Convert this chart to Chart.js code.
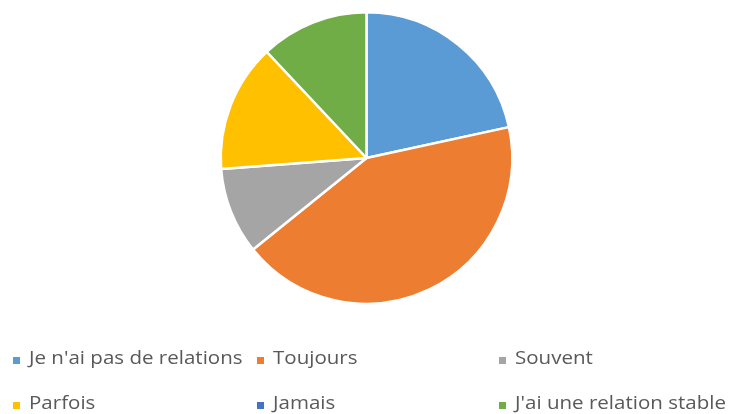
<!DOCTYPE html>
<html>
<head>
<meta charset="utf-8">
<script src="https://cdn.jsdelivr.net/npm/chart.js@4/dist/chart.umd.min.js"></script>
<style>
html,body{margin:0;padding:0;background:#fff;}
#wrap{position:relative;width:733px;height:414px;}
</style>
</head>
<body>
<div id="wrap"><canvas id="c" width="733" height="414"></canvas></div>
<script>
const categories = ["Je n'ai pas de relations", "Toujours", "Souvent", "Parfois", "Jamais", "J'ai une relation stable"];
const values = [21.6, 42.6, 9.6, 14.2, 0, 12.0];
const colors = ["#5B9BD5", "#ED7D31", "#A5A5A5", "#FFC000", "#4472C4", "#70AD47"];

const legendPlugin = {
  id: 'gridLegend',
  afterDraw(chart) {
    const ctx = chart.ctx;
    const labels = chart.data.labels;
    const bg = chart.data.datasets[0].backgroundColor;
    const colX = [13, 257, 499];
    const rowY = [364, 409];
    ctx.save();
    ctx.font = '18px "Open Sans", sans-serif';
    ctx.textBaseline = 'alphabetic';
    labels.forEach((lab, i) => {
      const x = colX[i % 3];
      const y = rowY[Math.floor(i / 3)];
      ctx.fillStyle = bg[i];
      ctx.fillRect(x, y - 7, 7, 7);
      ctx.save();
      ctx.translate(x + 16, y);
      ctx.scale(1.14, 1);
      ctx.fillStyle = '#595959';
      ctx.fillText(lab, 0, 0);
      ctx.restore();
    });
    ctx.restore();
  }
};

new Chart(document.getElementById('c'), {
  type: 'pie',
  data: {
    labels: categories,
    datasets: [{
      data: values,
      backgroundColor: colors,
      borderColor: '#ffffff',
      borderWidth: 2.5
    }]
  },
  options: {
    responsive: false,
    animation: false,
    layout: { padding: { top: 11, bottom: 109 } },
    plugins: {
      legend: { display: false },
      tooltip: { enabled: false }
    }
  },
  plugins: [legendPlugin]
});
</script>
</body>
</html>
